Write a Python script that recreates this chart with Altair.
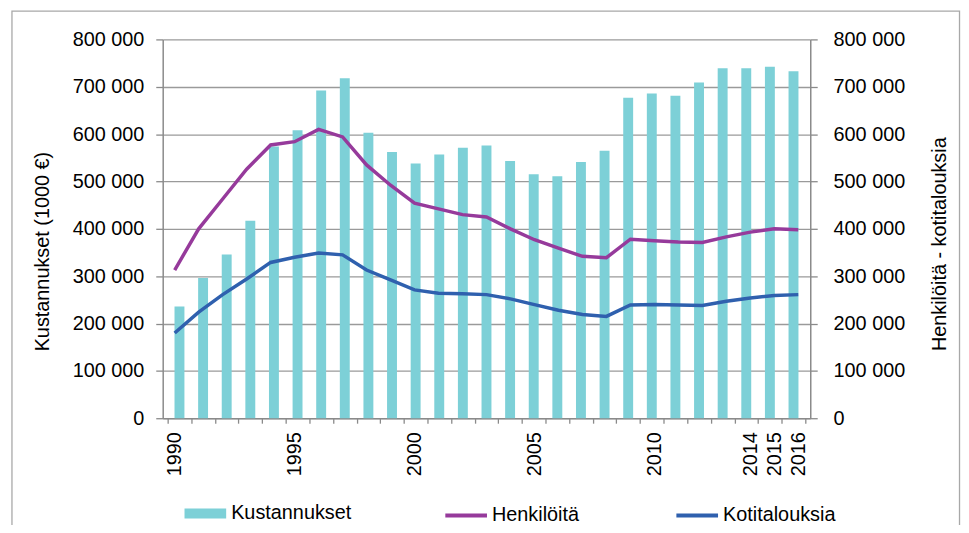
import altair as alt
import pandas as pd

years = list(range(1990, 2017))
kustannukset = [236000, 296000, 346000, 417000, 574000, 608000, 692000, 718000, 603000,
                562000, 538000, 557000, 571000, 576000, 543000, 515000, 511000, 541000,
                565000, 677000, 686000, 681000, 709000, 739000, 739000, 742000, 733000]
henkiloita = [313000, 400000, 463000, 526000, 577000, 584000, 610000, 594000, 535000,
              492000, 454000, 442000, 430000, 425000, 400000, 377000, 359000, 342000,
              339000, 378000, 375000, 372000, 371000, 383000, 393000, 400000, 398000]
kotitalouksia = [180000, 224000, 261000, 294000, 329000, 340000, 349000, 345000, 313000,
                 292000, 271000, 264000, 263000, 261000, 252000, 240000, 228000, 219000,
                 215000, 239000, 240000, 239000, 238000, 247000, 254000, 259000, 261000]
label_years = [1990, 1995, 2000, 2005, 2010, 2014, 2015, 2016]
y_ticks = [0, 100000, 200000, 300000, 400000, 500000, 600000, 700000, 800000]
series_bar = ["Kustannukset"]
series_lines = ["Henkilöitä", "Kotitalouksia"]

BAR_COLOR = "#7dd0d7"
LINE_COLORS = ["#963a9b", "#2f60ae"]
GRID = "#9a9a9a"
AXIS = "#8a8a8a"

boundary_ticks = [y - 0.5 for y in years] + [years[-1] + 0.5]

bars_df = pd.DataFrame({"Vuosi": years, "Arvo": kustannukset, "Sarja": series_bar[0]})
lines_df = pd.DataFrame({
    "Vuosi": years + years,
    "Arvo": henkiloita + kotitalouksia,
    "Sarja": [series_lines[0]] * len(years) + [series_lines[1]] * len(years),
})

xscale = alt.Scale(domain=[years[0] - 0.5, years[-1] + 0.5], nice=False, zero=False)
yscale = alt.Scale(domain=[0, 800000], nice=False)
label_expr = "replace(format(datum.value, ','), ',', ' ')"

frame = alt.Chart(pd.DataFrame({"k": [0]})).mark_rect(
    fillOpacity=0, stroke="#a8a8a8", strokeWidth=1.3
).encode(x=alt.value(-152), x2=alt.value(803.5), y=alt.value(-28.5), y2=alt.value(600))

bars = alt.Chart(bars_df).mark_bar(size=10).encode(
    x=alt.X("Vuosi:Q", scale=xscale,
            axis=alt.Axis(orient="bottom", values=boundary_ticks, labels=False, ticks=True,
                          tickSize=5, tickColor=AXIS, tickWidth=1.3, grid=False, domain=True,
                          domainColor=AXIS, domainWidth=1.5, title=None)),
    y=alt.Y("Arvo:Q", scale=yscale,
            axis=alt.Axis(orient="left", values=y_ticks, labelExpr=label_expr, tickSize=7,
                          tickColor=AXIS, tickWidth=1.3, labelPadding=12, grid=True,
                          gridColor=GRID, gridWidth=1.3, domainColor=AXIS, domainWidth=1.5,
                          title="Kustannukset (1000 €)", titleX=-121, titleY=213.5,
                          titleAngle=270, titleAlign="center", titleBaseline="middle")),
    color=alt.Color("Sarja:N", scale=alt.Scale(domain=series_bar, range=[BAR_COLOR]),
                    legend=alt.Legend(orient="none", legendX=22, legendY=457, title=None,
                                      symbolType="M-1,-0.24H1V0.24H-1Z", symbolSize=1764,
                                      symbolStrokeWidth=0, labelOffset=5, padding=0)),
)

lines = alt.Chart(lines_df).mark_line(strokeWidth=3.5).encode(
    x=alt.X("Vuosi:Q", scale=xscale,
            axis=alt.Axis(orient="bottom", values=label_years, format="d", ticks=False,
                          domain=False, grid=False, labelAngle=270, labelPadding=13.5,
                          title=None)),
    y=alt.Y("Arvo:Q", scale=yscale,
            axis=alt.Axis(orient="right", values=y_ticks, labelExpr=label_expr, tickSize=7,
                          tickColor=AXIS, tickWidth=1.3, labelPadding=16, grid=False,
                          domainColor=AXIS, domainWidth=1.5,
                          title="Henkilöitä - kotitalouksia", titleX=130, titleY=206,
                          titleAngle=270, titleAlign="center", titleBaseline="middle")),
    color=alt.Color("Sarja:N", scale=alt.Scale(domain=series_lines, range=LINE_COLORS),
                    legend=alt.Legend(orient="none", legendX=283, legendY=457, title=None,
                                      direction="horizontal", symbolType="stroke",
                                      symbolSize=1764, symbolStrokeWidth=4, labelOffset=3,
                                      columnPadding=90, padding=0, labelLimit=300)),
)

chart = alt.layer(frame, bars, lines).resolve_scale(
    x="independent", y="independent", color="independent"
).properties(
    width=653, height=382,
    autosize=alt.AutoSizeParams(type="none"),
    padding={"left": 156, "top": 29.5, "right": 152, "bottom": 105.5},
).configure(
    font="Liberation Sans"
).configure_view(
    stroke="transparent"
).configure_axis(
    labelFontSize=20, titleFontSize=20, labelColor="#000000", titleColor="#000000",
    titleFontWeight="normal", labelFont="Liberation Sans", titleFont="Liberation Sans"
).configure_legend(
    labelFontSize=20, labelColor="#000000", labelFont="Liberation Sans"
)

chart.save("out.html", embed_options={"renderer": "svg", "actions": False})
